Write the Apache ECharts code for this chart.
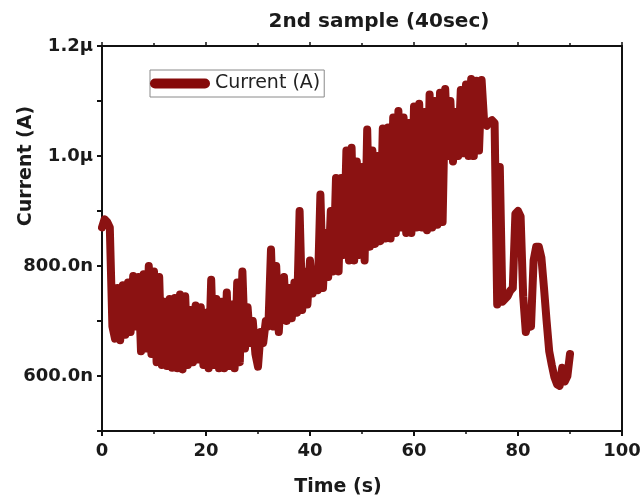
<!DOCTYPE html>
<html>
<head>
<meta charset="utf-8">
<script src="https://cdn.jsdelivr.net/npm/echarts@6/dist/echarts.min.js"></script>
<style>
  html, body { margin: 0; padding: 0; background: #fff; }
  #main { width: 644px; height: 504px; }
</style>
</head>
<body>
<div id="main"></div>
<script>
// time (s)
var times = [
    0, 0.5, 1, 1.5, 2, 2.5, 3, 3.5, 4, 4.5,
    5, 5.5, 6, 6.5, 7, 7.5, 8, 8.5, 9, 9.5,
    10, 10.5, 11, 11.5, 12, 12.5, 13, 13.5, 14, 14.5,
    15, 15.5, 16, 16.5, 17, 17.5, 18, 18.5, 19, 19.5,
    20, 20.5, 21, 21.5, 22, 22.5, 23, 23.5, 24, 24.5,
    25, 25.5, 26, 26.5, 27, 27.5, 28, 28.5, 29, 29.5,
    30, 30.5, 31, 31.5, 32, 32.5, 33, 33.5, 34, 34.5,
    35, 35.5, 36, 36.5, 37, 37.5, 38, 38.5, 39, 39.5,
    40, 40.5, 41, 41.5, 42, 42.5, 43, 43.5, 44, 44.5,
    45, 45.5, 46, 46.5, 47, 47.5, 48, 48.5, 49, 49.5,
    50, 50.5, 51, 51.5, 52, 52.5, 53, 53.5, 54, 54.5,
    55, 55.5, 56, 56.5, 57, 57.5, 58, 58.5, 59, 59.5,
    60, 60.5, 61, 61.5, 62, 62.5, 63, 63.5, 64, 64.5,
    65, 65.5, 66, 66.5, 67, 67.5, 68, 68.5, 69, 69.5,
    70, 70.5, 71, 71.5, 72, 72.5, 73, 73.5, 74, 74.5,
    75, 75.5, 76, 76.5, 77, 77.5, 78, 78.5, 79, 79.5,
    80, 80.5, 81, 81.5, 82, 82.5, 83, 83.5, 84, 84.5,
    85, 85.5, 86, 86.5, 87, 87.5, 88, 88.5, 89, 89.5,
    90
];

// current in nA (axis labels show n / μ)
var currentNA = [
    870, 885, 880, 870, 690, 668, 760, 665, 765, 675,
    770, 680, 782, 690, 780, 645, 785, 650, 800, 640,
    790, 625, 780, 620, 735, 618, 740, 615, 742, 614,
    748, 612, 745, 620, 720, 625, 728, 630, 725, 620,
    715, 614, 775, 620, 740, 614, 735, 614, 752, 618,
    730, 614, 770, 625, 790, 650, 725, 660, 700, 640,
    617, 680, 660, 700, 690, 830, 690, 800, 680, 760,
    780, 700, 760, 705, 770, 715, 900, 720, 790, 730,
    810, 750, 790, 756, 930, 760, 860, 780, 900, 790,
    960, 790, 960, 820, 1010, 810, 1015, 810, 990, 820,
    980, 810, 1048, 835, 1010, 840, 1000, 845, 1050, 850,
    1052, 850, 1070, 860, 1082, 870, 1070, 860, 1060, 860,
    1090, 870, 1095, 870, 1080, 865, 1112, 870, 1100, 875,
    1115, 880, 1122, 1000, 1100, 990, 1080, 1000, 1120, 1005,
    1130, 1000, 1140, 1000, 1137, 1010, 1138, 1060, 1055, 1062,
    1065, 1060, 730, 980, 735, 740, 745, 755, 760, 895,
    900, 890, 745, 680, 700, 690, 810, 835, 835, 815,
    760, 700, 645, 620, 598, 585, 582, 615, 590, 600,
    640
];

var yLabels = { 600: '600.0n', 800: '800.0n', 1000: '1.0\u03bc', 1200: '1.2\u03bc' };
var xLabelStep = 20;

var lineColor = '#8b1212';
var fontName = 'DejaVu Sans';

var seriesData = [];
for (var i = 0; i < times.length; i++) {
    seriesData.push([times[i], currentNA[i]]);
}

var chart = echarts.init(document.getElementById('main'), null, { renderer: 'canvas' });
chart.setOption({
    backgroundColor: '#ffffff',
    animation: false,
    grid: { left: 102, right: 22, top: 46, bottom: 73 },
    legend: {
        data: ['Current (A)'],
        left: 150,
        top: 70,
        orient: 'horizontal',
        padding: [3, 4, 3, 0],
        borderColor: '#8a8a8a',
        borderWidth: 1,
        itemWidth: 60,
        itemHeight: 10,
        icon: 'path://M5,0 L55,0 A5,5 0 0 1 55,10 L5,10 A5,5 0 0 1 5,0 Z',
        itemStyle: { color: '#860a0a' },
        textStyle: { fontFamily: fontName, fontSize: 19, color: '#222', lineHeight: 21 }
    },
    graphic: [
        {
            type: 'text',
            x: 379, y: 22,
            style: {
                text: '2nd sample (40sec)', fill: '#1a1a1a',
                font: 'bold 20px "DejaVu Sans"',
                textAlign: 'center', textVerticalAlign: 'middle'
            }
        },
        {
            type: 'text',
            x: 338, y: 487,
            style: {
                text: 'Time (s)', fill: '#1a1a1a',
                font: 'bold 19px "DejaVu Sans"',
                textAlign: 'center', textVerticalAlign: 'middle'
            }
        },
        {
            type: 'text',
            x: 26, y: 166,
            rotation: Math.PI / 2,
            style: {
                text: 'Current (A)', fill: '#1a1a1a',
                font: 'bold 19px "DejaVu Sans"',
                textAlign: 'center', textVerticalAlign: 'middle'
            }
        }
    ],
    xAxis: [
        {
            type: 'value',
            min: 0, max: 100, interval: xLabelStep,
            axisLine: { show: true, onZero: false, lineStyle: { color: '#111', width: 2 } },
            axisTick: { show: true, inside: false, length: 5, lineStyle: { color: '#111', width: 2 } },
            minorTick: { show: true, splitNumber: 2, length: 3, lineStyle: { color: '#111', width: 1.5 } },
            splitLine: { show: false },
            axisLabel: {
                margin: 11, color: '#1a1a1a',
                fontFamily: fontName, fontWeight: 'bold', fontSize: 18
            }
        },
        {
            type: 'value', position: 'top',
            min: 0, max: 100, interval: xLabelStep,
            axisLine: { show: true, onZero: false, lineStyle: { color: '#111', width: 2 } },
            axisTick: { show: true, inside: false, length: 4, lineStyle: { color: '#111', width: 1.5 } },
            minorTick: { show: true, splitNumber: 2, length: 3, lineStyle: { color: '#111', width: 1.5 } },
            splitLine: { show: false },
            axisLabel: { show: false }
        }
    ],
    yAxis: [
        {
            type: 'value',
            min: 500, max: 1200, interval: 100,
            axisLine: { show: true, onZero: false, lineStyle: { color: '#111', width: 2 } },
            axisTick: { show: true, inside: false, length: 5, lineStyle: { color: '#111', width: 2 } },
            splitLine: { show: false },
            axisLabel: {
                margin: 9, color: '#1a1a1a',
                fontFamily: fontName, fontWeight: 'bold', fontSize: 18,
                formatter: function(value) {
                    return yLabels[value] || '';
                }
            }
        },
        {
            type: 'value', position: 'right',
            min: 500, max: 1200, interval: 100,
            axisLine: { show: true, onZero: false, lineStyle: { color: '#111', width: 2 } },
            axisTick: { show: false },
            splitLine: { show: false },
            axisLabel: { show: false }
        }
    ],
    series: [{
        name: 'Current (A)',
        type: 'line',
        data: seriesData,
        showSymbol: false,
        symbol: 'none',
        lineStyle: { color: lineColor, width: 8, cap: 'round', join: 'round' },
        itemStyle: { color: lineColor }
    }]
});
</script>
</body>
</html>
